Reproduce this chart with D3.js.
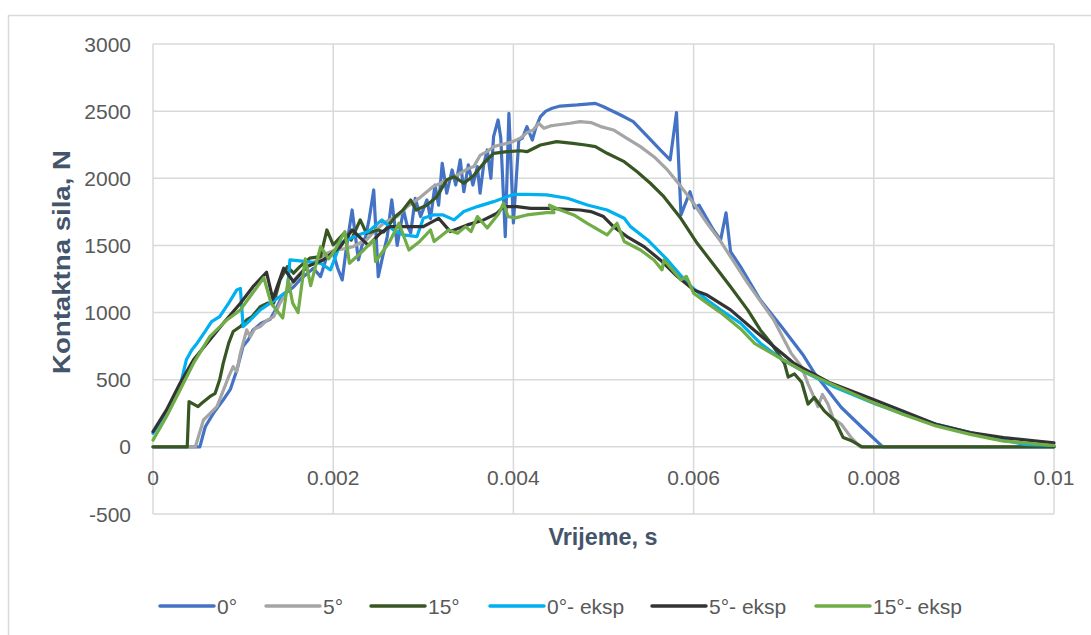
<!DOCTYPE html>
<html><head><meta charset="utf-8">
<script src="https://cdn.jsdelivr.net/npm/d3@7"></script>
<style>body{margin:0;background:#fff}svg{display:block}text{font-family:"Liberation Sans",Arial,sans-serif}</style>
</head><body>
<svg id="c" width="1091" height="635"></svg>
<script>
const xTicks=[0,0.002,0.004,0.006,0.008,0.01];
const xTickLabels=["0","0.002","0.004","0.006","0.008","0.01"];
const yTicks=[-500,0,500,1000,1500,2000,2500,3000];
const seriesNames=["0°","5°","15°","0°- eksp","5°- eksp","15°- eksp"];
const seriesColors=["#4472C4","#A5A5A5","#375623","#00B0F0","#333333","#70AD47"];

const s0=[[0,0],[0.00048,0],[0.00052,0],[0.00058,150],[0.00068,260],[0.00078,350],[0.00086,430],[0.00093,570],[0.001,750],[0.00106,800],[0.00111,870],[0.0012,920],[0.0013,950],[0.00136,1020],[0.00141,1090],[0.00148,1150],[0.00156,1190],[0.00164,1250],[0.00171,1290],[0.00178,1330],[0.00186,1268],[0.00193,1420],[0.002,1444],[0.00205,1330],[0.0021,1243],[0.00215,1500],[0.00221,1764],[0.00228,1392],[0.00232,1500],[0.00236,1566],[0.0024,1700],[0.00245,1913],[0.0025,1268],[0.00255,1420],[0.0026,1566],[0.00265,1839],[0.00271,1500],[0.00278,1764],[0.00282,1650],[0.00286,1593],[0.00291,1850],[0.00297,1715],[0.00304,1839],[0.00308,1700],[0.00313,1950],[0.00317,1800],[0.00321,2112],[0.00326,1889],[0.00332,2062],[0.00336,1950],[0.00341,2137],[0.00345,1900],[0.0035,2100],[0.00355,1950],[0.0036,2087],[0.00363,1889],[0.00367,2100],[0.00371,2211],[0.00375,2000],[0.00378,2310],[0.00383,2434],[0.00386,2300],[0.00391,1566],[0.00395,2484],[0.004,1667],[0.00406,2285],[0.0041,2300],[0.00415,2384],[0.00421,2285],[0.00425,2380],[0.0043,2459],[0.00436,2500],[0.00443,2521],[0.00452,2538],[0.00471,2546],[0.00491,2558],[0.005,2533],[0.00519,2471],[0.00533,2422],[0.00549,2310],[0.00563,2211],[0.00574,2137],[0.00581,2489],[0.00586,1727],[0.00596,1900],[0.00601,1780],[0.00606,1800],[0.00622,1615],[0.0063,1541],[0.00636,1742],[0.00641,1454],[0.00652,1342],[0.00674,1094],[0.00697,900],[0.00722,680],[0.00734,550],[0.00764,293],[0.00787,144],[0.0081,0],[0.01,0]];
const s5=[[0,0],[0.00047,0],[0.00056,200],[0.00071,300],[0.00084,523],[0.00089,598],[0.00093,560],[0.00097,698],[0.00104,871],[0.00108,820],[0.00113,880],[0.00119,896],[0.00126,940],[0.00134,970],[0.00141,1070],[0.0015,1180],[0.0016,1268],[0.00167,1318],[0.00175,1360],[0.00185,1400],[0.00193,1442],[0.002,1460],[0.00208,1470],[0.00215,1480],[0.00222,1491],[0.0023,1520],[0.00237,1541],[0.00245,1600],[0.00255,1660],[0.00262,1690],[0.00271,1715],[0.00282,1789],[0.00297,1860],[0.00304,1900],[0.00311,1938],[0.00319,1963],[0.00326,1988],[0.00334,2010],[0.00341,2037],[0.00349,2070],[0.00356,2087],[0.00363,2170],[0.00371,2200],[0.00378,2236],[0.00386,2250],[0.00393,2260],[0.004,2275],[0.00408,2300],[0.00415,2340],[0.00422,2360],[0.00428,2410],[0.00434,2372],[0.00441,2390],[0.00448,2397],[0.00463,2410],[0.00474,2422],[0.00486,2415],[0.00497,2385],[0.00511,2360],[0.00526,2298],[0.00541,2236],[0.00556,2161],[0.00571,2062],[0.00586,1938],[0.006,1814],[0.00615,1665],[0.0063,1530],[0.0066,1219],[0.00689,945],[0.00708,700],[0.0072,594],[0.00727,469],[0.00733,380],[0.00738,300],[0.00743,390],[0.00749,320],[0.00755,210],[0.00764,168],[0.00775,69],[0.00785,0],[0.01,0]];
const s15=[[0,0],[0.00038,0],[0.0004,337],[0.0005,300],[0.00054,325],[0.00063,374],[0.00069,399],[0.00074,499],[0.00078,623],[0.00084,772],[0.00089,859],[0.00097,896],[0.00104,945],[0.0011,970],[0.00119,1044],[0.00127,1070],[0.00134,1070],[0.00141,1243],[0.00149,1342],[0.00156,1293],[0.00163,1342],[0.00174,1405],[0.00186,1417],[0.00193,1615],[0.002,1504],[0.00212,1590],[0.0022,1540],[0.0023,1690],[0.00237,1590],[0.0025,1615],[0.00256,1600],[0.00269,1715],[0.00277,1760],[0.00286,1839],[0.00292,1764],[0.00304,1800],[0.00315,1863],[0.00326,1988],[0.00334,2012],[0.00345,1963],[0.00356,2020],[0.00367,2112],[0.00378,2186],[0.00393,2198],[0.00408,2205],[0.00415,2198],[0.0043,2248],[0.00448,2273],[0.00466,2260],[0.0048,2248],[0.00491,2236],[0.00504,2186],[0.00523,2124],[0.00537,2050],[0.00552,1963],[0.00567,1863],[0.00586,1700],[0.00604,1516],[0.00623,1350],[0.00641,1193],[0.0066,1020],[0.00674,871],[0.00686,772],[0.00701,619],[0.00705,519],[0.00712,543],[0.0072,481],[0.00727,319],[0.00734,368],[0.00745,268],[0.00757,194],[0.00766,69],[0.00776,43],[0.00787,0],[0.01,0]];
const e0=[[0,100],[0.00015,260],[0.0003,449],[0.00037,648],[0.00043,722],[0.00049,772],[0.00057,850],[0.00065,933],[0.00074,970],[0.00084,1070],[0.00093,1169],[0.00097,1180],[0.001,896],[0.00108,945],[0.00119,1020],[0.0013,1070],[0.00141,1120],[0.00149,1160],[0.00152,1392],[0.00171,1380],[0.00186,1367],[0.00197,1318],[0.00208,1516],[0.00223,1566],[0.00239,1603],[0.00254,1690],[0.00267,1615],[0.00278,1578],[0.00293,1566],[0.003,1702],[0.00311,1727],[0.00322,1727],[0.00334,1690],[0.00345,1752],[0.0036,1789],[0.00378,1826],[0.004,1880],[0.00415,1880],[0.00437,1876],[0.0046,1851],[0.00482,1801],[0.00504,1764],[0.00523,1702],[0.0053,1640],[0.00549,1541],[0.00571,1392],[0.00593,1219],[0.00615,1094],[0.0063,1020],[0.00652,921],[0.00674,772],[0.00697,656],[0.0072,569],[0.00757,444],[0.00802,319],[0.00854,194],[0.00907,106],[0.00966,19],[0.01,10]];
const e5=[[0,114],[0.00015,275],[0.0003,474],[0.00045,648],[0.0006,772],[0.00078,921],[0.00097,1070],[0.00111,1193],[0.00126,1300],[0.00133,1100],[0.00145,1330],[0.00156,1230],[0.00171,1342],[0.00189,1392],[0.00208,1491],[0.00221,1615],[0.00239,1500],[0.00252,1590],[0.00263,1640],[0.00278,1640],[0.003,1640],[0.00317,1702],[0.0033,1603],[0.00349,1653],[0.00367,1690],[0.00382,1740],[0.00389,1789],[0.00404,1789],[0.00419,1776],[0.00441,1776],[0.00474,1764],[0.00486,1752],[0.005,1715],[0.00511,1640],[0.00526,1566],[0.00545,1491],[0.00563,1392],[0.00582,1268],[0.006,1169],[0.00615,1130],[0.00641,1020],[0.00667,870],[0.00689,747],[0.00712,619],[0.0075,481],[0.00794,368],[0.00832,268],[0.00869,168],[0.00907,106],[0.00944,69],[0.00981,43],[0.01,30]];
const e15=[[0,50],[0.00015,226],[0.0003,424],[0.00045,623],[0.00063,821],[0.00082,945],[0.00097,1020],[0.0011,1140],[0.00123,1260],[0.00131,1070],[0.00137,1020],[0.00144,960],[0.0015,1243],[0.00155,1070],[0.00161,1000],[0.00169,1400],[0.00175,1200],[0.00186,1491],[0.00195,1400],[0.00202,1466],[0.00213,1603],[0.00218,1367],[0.00234,1466],[0.00245,1541],[0.00247,1380],[0.00262,1520],[0.00273,1665],[0.00284,1466],[0.00296,1530],[0.00308,1615],[0.00312,1529],[0.00328,1615],[0.00338,1590],[0.00347,1640],[0.00353,1603],[0.0036,1715],[0.00371,1630],[0.00384,1740],[0.00389,1814],[0.00394,1715],[0.00402,1705],[0.00415,1727],[0.00437,1744],[0.00445,1744],[0.0044,1800],[0.0045,1770],[0.00467,1727],[0.00482,1665],[0.00504,1578],[0.00515,1665],[0.00523,1529],[0.00541,1466],[0.00556,1392],[0.00565,1318],[0.00567,1392],[0.00575,1330],[0.00586,1243],[0.00592,1270],[0.006,1144],[0.00615,1070],[0.0063,1000],[0.00652,880],[0.00668,769],[0.00694,669],[0.0072,569],[0.00757,456],[0.00794,344],[0.00832,243],[0.00869,156],[0.00907,93],[0.00944,43],[0.01,10]];
const seriesData=[s0,s5,s15,e0,e5,e15];

const svg=d3.select("#c");
const x=d3.scaleLinear().domain([0,0.01]).range([153,1054]);
const y=d3.scaleLinear().domain([-500,3000]).range([514,44]);
const grid="#D9D9D9", txt="#595959";

svg.append("rect").attr("x",8.5).attr("y",15.5).attr("width",1200).attr("height",800).attr("fill","none").attr("stroke",grid).attr("stroke-width",1.5);

svg.append("g").selectAll("line").data(yTicks).join("line")
 .attr("x1",x(0)).attr("x2",x(0.01)).attr("y1",d=>y(d)).attr("y2",d=>y(d)).attr("stroke",grid).attr("stroke-width",1.5);
svg.append("g").selectAll("line").data(xTicks).join("line")
 .attr("x1",d=>x(d)).attr("x2",d=>x(d)).attr("y1",y(3000)).attr("y2",y(-500)).attr("stroke",grid).attr("stroke-width",1.5);

svg.append("g").selectAll("text").data(yTicks).join("text")
 .attr("x",131).attr("y",d=>y(d)).attr("dy","0.36em").attr("text-anchor","end").attr("font-size",21).attr("fill",txt).text(d=>d);
svg.append("g").selectAll("text").data(xTicks).join("text")
 .attr("x",d=>x(d)).attr("y",y(0)+31).attr("dy","0.36em").attr("text-anchor","middle").attr("font-size",21).attr("fill",txt).text((d,i)=>xTickLabels[i]);

const line=d3.line().x(d=>x(d[0])).y(d=>y(d[1]));
svg.append("g").selectAll("path").data(seriesData).join("path")
 .attr("d",line).attr("fill","none").attr("stroke",(d,i)=>seriesColors[i]).attr("stroke-width",3.2).attr("stroke-linejoin","round").attr("stroke-linecap","round");

svg.append("text").attr("transform","translate(70,262) rotate(-90)").attr("text-anchor","middle").attr("font-size",23).attr("font-weight","bold").attr("fill","#44546A")
 .attr("textLength",224).attr("lengthAdjust","spacingAndGlyphs").text("Kontaktna sila, N");
svg.append("text").attr("x",603).attr("y",545).attr("text-anchor","middle").attr("font-size",23).attr("font-weight","bold").attr("fill","#44546A")
 .attr("textLength",109).attr("lengthAdjust","spacingAndGlyphs").text("Vrijeme, s");

const legX=[160,266,371,490,652,816];
const lg=svg.append("g").selectAll("g").data(seriesNames).join("g");
lg.append("line").attr("x1",(d,i)=>legX[i]).attr("x2",(d,i)=>legX[i]+54).attr("y1",606).attr("y2",606).attr("stroke",(d,i)=>seriesColors[i]).attr("stroke-width",3.5).attr("stroke-linecap","round");
lg.append("text").attr("x",(d,i)=>legX[i]+57).attr("y",606).attr("dy","0.36em").attr("font-size",21).attr("fill",txt).text(d=>d);
</script>
</body></html>
